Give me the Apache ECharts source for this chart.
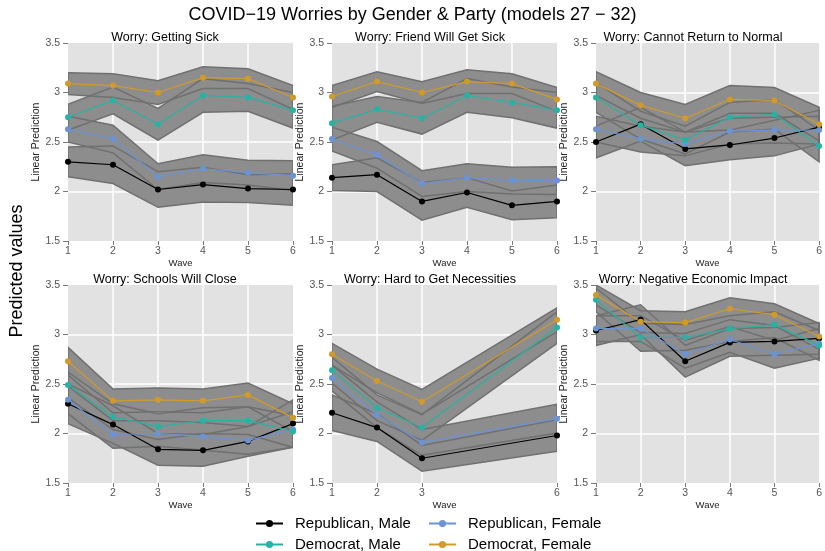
<!DOCTYPE html>
<html>
<head>
<meta charset="utf-8">
<script src="https://cdn.jsdelivr.net/npm/echarts@6/dist/echarts.min.js"></script>
<style>html,body{margin:0;padding:0;background:#fff}#c{width:825px;height:551px}</style>
</head>
<body>
<div id="c"></div>
<script>
// ---------- data ----------
const mainTitle = 'COVID\u221219 Worries by Gender & Party (models 27 \u2212 32)';
const groupNames = ['Republican, Male', 'Republican, Female', 'Democrat, Male', 'Democrat, Female'];
const groupColors = ['#000000', '#6b93d6', '#27b3a4', '#d19a2a'];
const panelTitles = ['Worry: Getting Sick', 'Worry: Friend Will Get Sick', 'Worry: Cannot Return to Normal',
                     'Worry: Schools Will Close', 'Worry: Hard to Get Necessities', 'Worry: Negative Economic Impact'];
const waves = [1, 2, 3, 4, 5, 6];
const wavesNecessities = [1, 2, 3, 6];

// means per group: [Rep Male, Rep Female, Dem Male, Dem Female]
const sickMean = [
  [2.30, 2.27, 2.02, 2.07, 2.03, 2.02],
  [2.63, 2.53, 2.15, 2.23, 2.19, 2.16],
  [2.75, 2.92, 2.68, 2.97, 2.95, 2.82],
  [3.09, 3.07, 3.00, 3.15, 3.14, 2.95]];
const sickCI = [
  [0.15, 0.19, 0.18, 0.175, 0.14, 0.16],
  [0.13, 0.14, 0.13, 0.14, 0.125, 0.15],
  [0.13, 0.135, 0.16, 0.17, 0.14, 0.18],
  [0.11, 0.12, 0.12, 0.11, 0.10, 0.12]];

const friendMean = [
  [2.14, 2.17, 1.90, 1.99, 1.86, 1.90],
  [2.53, 2.37, 2.08, 2.14, 2.11, 2.11],
  [2.69, 2.83, 2.74, 2.97, 2.90, 2.82],
  [2.96, 3.11, 3.00, 3.11, 3.09, 2.93]];
const friendCI = [
  [0.13, 0.17, 0.19, 0.15, 0.145, 0.165],
  [0.12, 0.135, 0.13, 0.14, 0.135, 0.14],
  [0.17, 0.13, 0.16, 0.17, 0.155, 0.18],
  [0.11, 0.10, 0.11, 0.12, 0.10, 0.12]];

const normalMean = [
  [2.50, 2.68, 2.43, 2.47, 2.54, 2.65],
  [2.63, 2.53, 2.48, 2.61, 2.62, 2.62],
  [2.95, 2.67, 2.52, 2.75, 2.78, 2.46],
  [3.09, 2.87, 2.74, 2.93, 2.92, 2.68]];
const normalCI = [
  [0.16, 0.17, 0.17, 0.15, 0.18, 0.17],
  [0.13, 0.13, 0.12, 0.13, 0.13, 0.14],
  [0.15, 0.14, 0.14, 0.15, 0.15, 0.16],
  [0.12, 0.13, 0.14, 0.14, 0.13, 0.17]];

const schoolsMean = [
  [2.30, 2.09, 1.84, 1.83, 1.92, 2.10],
  [2.34, 1.99, 2.00, 1.97, 1.93, 2.04],
  [2.49, 2.17, 2.07, 2.13, 2.13, 2.02],
  [2.73, 2.33, 2.34, 2.33, 2.39, 2.16]];
const schoolsCI = [
  [0.20, 0.19, 0.16, 0.16, 0.15, 0.24],
  [0.14, 0.14, 0.13, 0.14, 0.14, 0.18],
  [0.13, 0.13, 0.13, 0.13, 0.14, 0.16],
  [0.14, 0.12, 0.12, 0.12, 0.12, 0.14]];

const necessMean = [
  [2.21, 2.06, 1.75, 1.98],
  [2.56, 2.19, 1.91, 2.15],
  [2.64, 2.26, 2.06, 3.07],
  [2.80, 2.53, 2.32, 3.15]];
const necessCI = [
  [0.18, 0.14, 0.13, 0.16],
  [0.13, 0.13, 0.13, 0.145],
  [0.13, 0.13, 0.13, 0.16],
  [0.11, 0.12, 0.125, 0.12]];

const economyMean = [
  [3.04, 3.15, 2.73, 2.92, 2.93, 2.96],
  [3.06, 3.06, 2.80, 2.95, 2.80, 2.91],
  [3.35, 2.97, 2.97, 3.06, 3.10, 2.89],
  [3.40, 3.13, 3.12, 3.26, 3.20, 2.98]];
const economyCI = [
  [0.15, 0.15, 0.16, 0.14, 0.14, 0.16],
  [0.13, 0.13, 0.14, 0.13, 0.14, 0.15],
  [0.12, 0.14, 0.13, 0.13, 0.13, 0.15],
  [0.10, 0.11, 0.11, 0.11, 0.11, 0.13]];

const panels = [
  { x: waves, mean: sickMean, ci: sickCI },
  { x: waves, mean: friendMean, ci: friendCI },
  { x: waves, mean: normalMean, ci: normalCI },
  { x: waves, mean: schoolsMean, ci: schoolsCI },
  { x: wavesNecessities, mean: necessMean, ci: necessCI },
  { x: waves, mean: economyMean, ci: economyCI }
];

// ---------- layout ----------
const FONT = 'Liberation Sans, Arial, Helvetica, sans-serif';
const colLeft = [68, 332, 596];
const rowTop = [43, 285];
const plotW = 225, plotH = 198;
const titleCenter = [160, 425, 688];
const BAND_FILL = '#8d8d8d', BAND_LINE = '#707070', BG = '#e2e2e2';

const grids = [], xAxes = [], yAxes = [], series = [], titles = [];
titles.push({ text: mainTitle, left: 'center', top: 1,
  textStyle: { fontFamily: FONT, fontSize: 18, fontWeight: 'normal', color: '#000' } });

panels.forEach((p, gi) => {
  const c = gi % 3, r = Math.floor(gi / 3);
  grids.push({ left: colLeft[c], top: rowTop[r], width: plotW, height: plotH,
    show: true, backgroundColor: BG, borderWidth: 0, containLabel: false });
  titles.push({ text: panelTitles[gi], left: titleCenter[c], textAlign: 'center', top: rowTop[r] - 17,
    textStyle: { fontFamily: FONT, fontSize: 12.5, fontWeight: 'normal', color: '#000' } });
  const xa = {
    type: 'value', gridIndex: gi, min: 1, max: 6, interval: 1,
    name: 'Wave', nameLocation: 'middle', nameGap: 17,
    nameTextStyle: { fontFamily: FONT, fontSize: 9.5, color: '#222' },
    axisLine: { show: false },
    axisTick: { show: true, length: 4, lineStyle: { color: '#777' } },
    axisLabel: { fontFamily: FONT, fontSize: 10.5, color: '#555', margin: 5 },
    splitLine: { show: true, showMinLine: false, showMaxLine: false, lineStyle: { color: '#ffffff', width: 1.5 } }
  };
  if (p.x !== waves) {
    xa.axisTick.customValues = p.x;
    xa.axisLabel.customValues = p.x;
  }
  xAxes.push(xa);
  yAxes.push({
    type: 'value', gridIndex: gi, min: 1.5, max: 3.5, interval: 0.5,
    name: 'Linear Prediction', nameLocation: 'middle', nameGap: 22,
    nameTextStyle: { fontFamily: FONT, fontSize: 10.5, color: '#222' },
    axisLine: { show: false },
    axisTick: { show: true, length: 5, lineStyle: { color: '#777' } },
    axisLabel: { fontFamily: FONT, fontSize: 10.5, color: '#555', margin: 8 },
    splitLine: { show: true, showMinLine: false, showMaxLine: false, lineStyle: { color: '#ffffff', width: 1.5 } }
  });

  // bands: fills first, then outlines
  ['fill', 'line'].forEach(kind => {
    p.mean.forEach((m, s) => {
      const rows = p.x.map((x, i) => [x, m[i] - p.ci[s][i], m[i] + p.ci[s][i]]);
      series.push({
        type: 'custom', xAxisIndex: gi, yAxisIndex: gi, data: rows,
        encode: { x: 0, y: [1, 2] }, silent: true, clip: true,
        z: kind === 'fill' ? 1 : 2,
        renderItem: (params, api) => {
          if (params.dataIndex !== 0) return null;
          const top = rows.map(rw => api.coord([rw[0], rw[2]]));
          const bot = rows.map(rw => api.coord([rw[0], rw[1]])).reverse();
          return {
            type: 'polygon', shape: { points: top.concat(bot) },
            style: kind === 'fill'
              ? { fill: BAND_FILL, stroke: null }
              : { fill: 'none', stroke: BAND_LINE, lineWidth: 1.5 }
          };
        }
      });
    });
  });

  // lines
  p.mean.forEach((m, s) => {
    series.push({
      type: 'line', name: groupNames[s], xAxisIndex: gi, yAxisIndex: gi,
      data: p.x.map((x, i) => [x, m[i]]),
      symbol: 'circle', symbolSize: 6, z: 3,
      lineStyle: { color: groupColors[s], width: 1.2 },
      itemStyle: { color: groupColors[s] },
      emphasis: { disabled: true }, animation: false
    });
  });
});

const legendPos = [[250, 511], [423, 511], [250, 532], [423, 532]];
const legends = groupNames.map((nm, s) => ({
  left: legendPos[s][0], top: legendPos[s][1], data: [nm],
  itemWidth: 27, itemHeight: 9, selectedMode: false,
  textStyle: { fontFamily: FONT, fontSize: 15, color: '#000', padding: [0, 0, 0, 7] }
}));

const option = {
  animation: false,
  title: titles,
  grid: grids,
  xAxis: xAxes,
  yAxis: yAxes,
  legend: legends,
  graphic: [{
    type: 'text', x: 17, y: 271, rotation: Math.PI / 2,
    style: { text: 'Predicted values', fontFamily: FONT, fontSize: 18, fill: '#000',
             align: 'center', verticalAlign: 'middle' }
  }],
  series: series
};

const chart = echarts.init(document.getElementById('c'), null, { renderer: 'canvas' });
chart.setOption(option);
</script>
</body>
</html>
